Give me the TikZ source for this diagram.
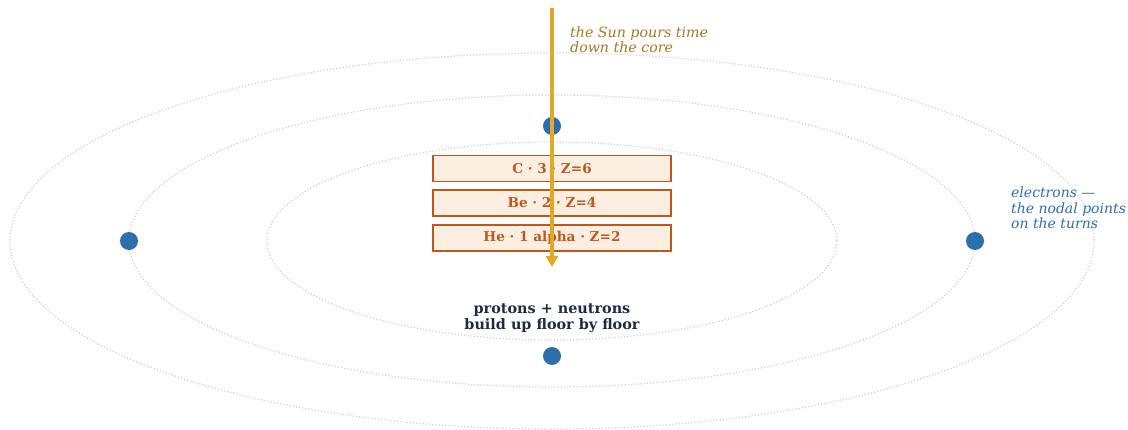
\documentclass[tikz,border=0pt]{standalone}
\usepackage{fontspec}
\setmainfont{DejaVu Serif}
\usetikzlibrary{arrows.meta}
\definecolor{orbit}{HTML}{CFCFCF}
\definecolor{eblue}{HTML}{2E6EAD}
\definecolor{boxedge}{HTML}{C0571C}
\definecolor{boxfill}{HTML}{FCEEE0}
\definecolor{sun}{HTML}{E2A826}
\definecolor{suntext}{HTML}{A07C22}
\definecolor{navy}{HTML}{1F2A44}
\tikzset{
  orbitline/.style={draw=orbit, line width=1.2pt, dash pattern=on 1.2pt off 2pt},
  electron/.style={circle, fill=eblue, minimum size=18pt, inner sep=0pt},
  floorbox/.style={draw=boxedge, fill=boxfill, line width=1.8pt, minimum width=238pt, minimum height=26pt, inner sep=0pt, text=boxedge, font=\fontsize{13.6}{15}\selectfont\bfseries},
  sunarrow/.style={draw=sun, line width=4pt, -{Triangle[length=11pt,width=12pt]}},
}
\begin{document}
\begin{tikzpicture}[x=1pt,y=-1pt]
\useasboundingbox (0,0) rectangle (1128,429);
\draw[orbitline] (552,241) ellipse [x radius=542, y radius=188];
\draw[orbitline] (552,241) ellipse [x radius=423, y radius=146];
\draw[orbitline] (552,241) ellipse [x radius=285, y radius=99];
\node[electron] (eL) at (129,241) {};
\node[electron] (eR) at (975,241) {};
\node[electron] (eT) at (552,126) {};
\node[electron] (eB) at (552,356) {};
\node[floorbox] (c) at (552,168.5) {C · 3 · Z=6};
\node[floorbox] (be) at (552,203) {Be · 2 · Z=4};
\node[floorbox] (he) at (552,238) {He · 1 alpha · Z=2};
\coordinate (top) at (552,8);
\coordinate (bot) at (552,267);
\draw[sunarrow] (top) -- (bot);
\node[anchor=north west, align=left, text=suntext, font=\fontsize{14.2}{15.5}\selectfont\itshape, inner sep=0pt] (suntxt) at (570,26.5) {the Sun pours time\\down the core};
\node[anchor=north west, align=left, text=eblue, font=\fontsize{14}{15.5}\selectfont\itshape, inner sep=0pt] (etxt) at (1011,187) {electrons —\\the nodal points\\on the turns};
\node[align=center, text=navy, font=\fontsize{14.4}{15.5}\selectfont\bfseries, inner sep=0pt] (pn) at (552,318) {protons + neutrons\\build up floor by floor};
\end{tikzpicture}
\end{document}
